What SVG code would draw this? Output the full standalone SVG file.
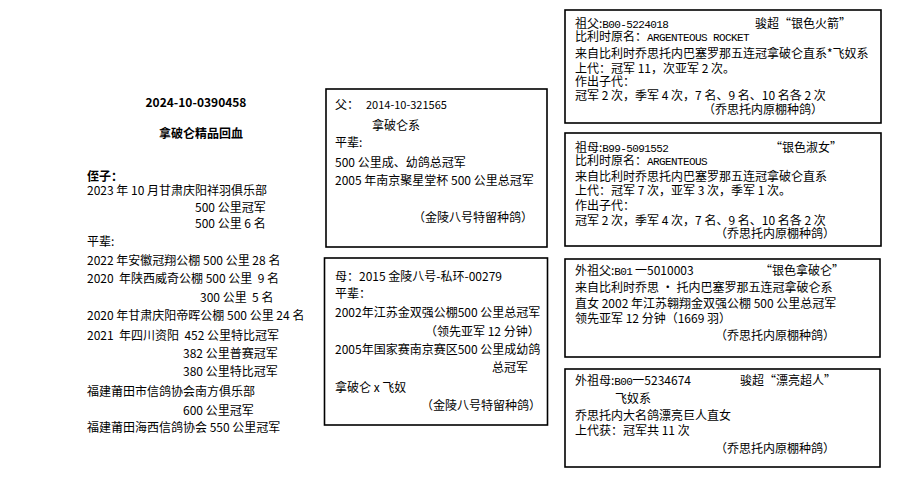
<svg xmlns="http://www.w3.org/2000/svg" width="921" height="483" viewBox="0 0 921 483">
<style>
text{font-family:"Noto Sans CJK SC","Liberation Sans",sans-serif;font-size:12px;fill:#000}
.b{font-weight:bold}
.m{font-family:"Liberation Mono","Noto Sans CJK SC",monospace;font-size:11px;letter-spacing:-0.6px}
.box{fill:#fff;stroke:#000;stroke-width:1.6}
</style>
<rect width="921" height="483" fill="#fff"/>
<g id="subject">
<text class="b" x="196" y="106.5" text-anchor="middle">2024-10-0390458</text>
<text class="b" x="201" y="137.5" text-anchor="middle">拿破仑精品回血</text>
<text class="b" x="87" y="180.5">侄子：</text>
<text x="87" y="194.5">2023 年 10 月甘肃庆阳祥羽俱乐部</text>
<text x="195" y="211.5">500 公里冠军</text>
<text x="195" y="227.5">500 公里 6 名</text>
<text x="87" y="245.5">平辈:</text>
<text x="87" y="264.5">2022 年安徽冠翔公棚 500 公里 28 名</text>
<text x="87" y="282.5" xml:space="preserve">2020  年陕西威奇公棚 500 公里  9 名</text>
<text x="200" y="302" xml:space="preserve">300 公里  5 名</text>
<text x="87" y="320">2020 年甘肃庆阳帝晖公棚 500 公里 24 名</text>
<text x="87" y="339.5" xml:space="preserve">2021  年四川资阳  452 公里特比冠军</text>
<text x="183" y="357.5">382 公里普赛冠军</text>
<text x="183" y="376">380 公里特比冠军</text>
<text x="87" y="395.5">福建莆田市信鸽协会南方俱乐部</text>
<text x="183" y="415">600 公里冠军</text>
<text x="87" y="431.5">福建莆田海西信鸽协会 550 公里冠军</text>
</g>
<g id="father">
<rect class="box" x="326" y="89" width="221" height="158"/>
<text x="335" y="108.5">父：</text>
<text x="366" y="108.5" style="font-size:11px">2014-10-321565</text>
<text x="372" y="129.5">拿破仑系</text>
<text x="335" y="146.5">平辈:</text>
<text x="335" y="166.5">500 公里成、幼鸽总冠军</text>
<text x="335" y="184.5">2005 年南京聚星堂杯 500 公里总冠军</text>
<text x="413" y="221.5">（金陵八号特留种鸽）</text>
</g>
<g id="mother">
<rect class="box" x="324.5" y="258" width="223" height="167"/>
<text x="335" y="280.5">母：2015 金陵八号-私环-00279</text>
<text x="335" y="297.5">平辈：</text>
<text x="335" y="316.5">2002年江苏金双强公棚500 公里总冠军</text>
<text x="425" y="335.5">（领先亚军 12 分钟）</text>
<text x="335" y="353.5">2005年国家赛南京赛区500 公里成幼鸽</text>
<text x="492" y="371.5">总冠军</text>
<text x="335" y="391.5">拿破仑 x 飞奴</text>
<text x="421" y="409.5">（金陵八号特留种鸽）</text>
</g>
<g id="grandfather">
<rect class="box" x="565" y="10" width="316" height="113"/>
<text x="575" y="27.5">祖父:<tspan class="m">B00-5224018</tspan></text>
<text x="755" y="27.5">骏超“银色火箭”</text>
<text x="575" y="40.5">比利时原名：<tspan class="m">ARGENTEOUS ROCKET</tspan></text>
<text x="575" y="57.5">来自比利时乔思托内巴塞罗那五连冠拿破仑直系*飞奴系</text>
<text x="575" y="72.5">上代：冠军 11，次亚军 2 次。</text>
<text x="575" y="85.5">作出子代：</text>
<text x="575" y="99.5">冠军 2 次，季军 4 次，7 名、9 名、10 名各 2 次</text>
<text x="703" y="113.5">（乔思托内原棚种鸽）</text>
</g>
<g id="grandmother">
<rect class="box" x="565" y="133" width="316" height="113"/>
<text x="575" y="151.5">祖母:<tspan class="m">B99-5091552</tspan></text>
<text x="770" y="151.5">“银色淑女”</text>
<text x="575" y="164.5">比利时原名：<tspan class="m">ARGENTEOUS</tspan></text>
<text x="575" y="180.5">来自比利时乔思托内巴塞罗那五连冠拿破仑直系</text>
<text x="575" y="194.5">上代：冠军 7 次，亚军 3 次，季军 1 次。</text>
<text x="575" y="209.5">作出子代：</text>
<text x="575" y="224.5">冠军 2 次，季军 4 次，7 名、9 名、10 名各 2 次</text>
<text x="715" y="237.5">（乔思托内原棚种鸽）</text>
</g>
<g id="maternal-grandfather">
<rect class="box" x="565" y="259" width="315" height="98"/>
<text x="575" y="274.5">外祖父:<tspan class="m">B01</tspan> 一5010003</text>
<text x="760" y="274.5">“银色拿破仑”</text>
<text x="575" y="291.5">来自比利时乔思 · 托内巴塞罗那五连冠拿破仑系</text>
<text x="575" y="307.5">直女 2002 年江苏翱翔金双强公棚 500 公里总冠军</text>
<text x="575" y="322.5">领先亚军 12 分钟（1669 羽）</text>
<text x="715" y="339.5">（乔思托内原棚种鸽）</text>
</g>
<g id="maternal-grandmother">
<rect class="box" x="565" y="369" width="315" height="98"/>
<text x="575" y="384.5">外祖母:<tspan class="m">B00</tspan>一5234674</text>
<text x="740" y="384.5">骏超“漂亮超人”</text>
<text x="615" y="402.5">飞奴系</text>
<text x="575" y="419.5">乔思托内大名鸽漂亮巨人直女</text>
<text x="575" y="434.5">上代获：冠军共 11 次</text>
<text x="715" y="452.5">（乔思托内原棚种鸽）</text>
</g>
<g id="connectors"/>
</svg>
